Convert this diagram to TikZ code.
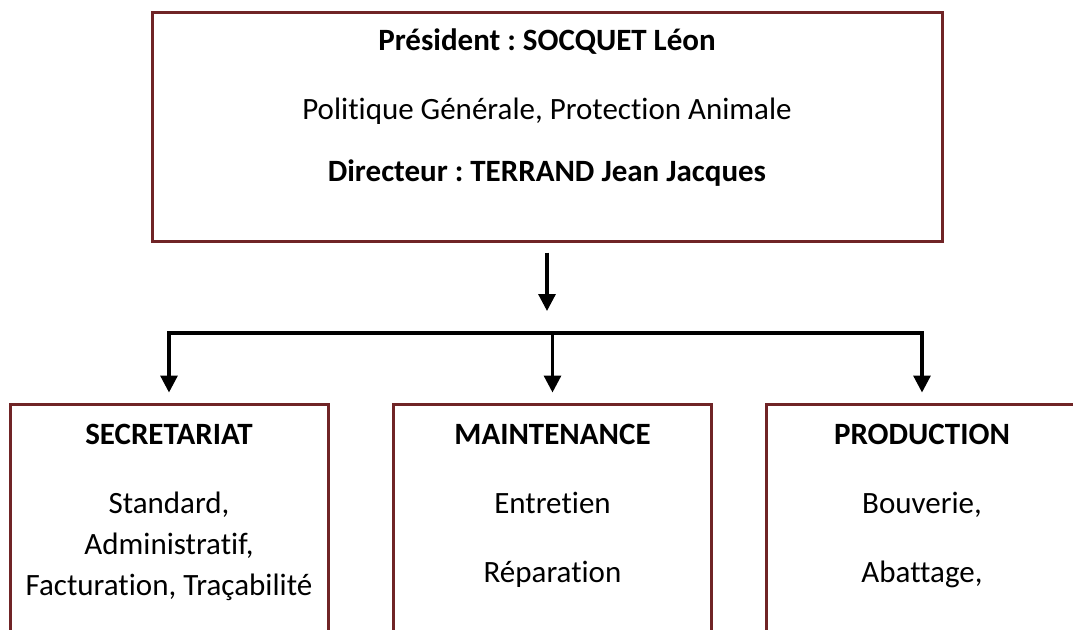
\documentclass[tikz,border=0pt]{standalone}
\usepackage{fontspec}
\setmainfont{Carlito}[RawFeature=-liga]
\frenchspacing
\usetikzlibrary{arrows.meta,positioning}
\definecolor{boxred}{RGB}{112,36,38}
\tikzset{
  orgbox/.style={draw=boxred, line width=3pt, inner sep=0pt},
  txt/.style={anchor=base, font=\fontsize{31}{37}\selectfont},
  head/.style={anchor=base, font=\fontsize{31}{37}\selectfont\bfseries},
  link/.style={line width=3.2pt, -{Triangle[width=17pt,length=17pt]}},
}
\begin{document}
\begin{tikzpicture}[x=1pt,y=-1pt]
\useasboundingbox (0,0) rectangle (1073,629);
% boxes
\node[orgbox, minimum width=790pt, minimum height=229pt] (dir) at (547,126.5) {};
\node[orgbox, minimum width=318pt, minimum height=280pt] (sec) at (169,544) {};
\node[orgbox, minimum width=318pt, minimum height=280pt] (maint) at (552.5,544) {};
\node[orgbox, minimum width=312pt, minimum height=280pt] (prod) at (922,544) {};
% top box text
\node[head] (pres) at (547,50) {Président : SOCQUET Léon};
\node[txt] (pol) at (547,119) {Politique Générale, Protection Animale};
\node[head] (direc) at (547,181) {Directeur : TERRAND Jean Jacques};
% services
\node[head] (sectitle) at (169,444) {SECRETARIAT};
\node[txt] (std) at (169,513) {Standard,};
\node[txt] (adm) at (169,554) {Administratif,};
\node[txt] (fact) at (169,595) {Facturation, Traçabilité};
\node[head] (mainttitle) at (552.5,444) {MAINTENANCE};
\node[txt] (entr) at (552.5,513) {Entretien};
\node[txt] (rep) at (552.5,582) {Réparation};
\node[head] (prodtitle) at (922,444) {PRODUCTION};
\node[txt] (bouv) at (922,513) {Bouverie,};
\node[txt] (abat) at (922,582) {Abattage,};
% connectors
\coordinate (fork) at (547,311);
\coordinate (bus) at (555,333);
\draw[link] ([yshift=-10pt]dir.south) -- (fork);
\draw[line width=3.2pt, line cap=rect] (sec.north |- bus) -- (prod.north |- bus);
\foreach \b in {sec,maint,prod}
  \draw[link] (\b.north |- bus) -- ([yshift=10pt]\b.north);
\end{tikzpicture}
\end{document}
